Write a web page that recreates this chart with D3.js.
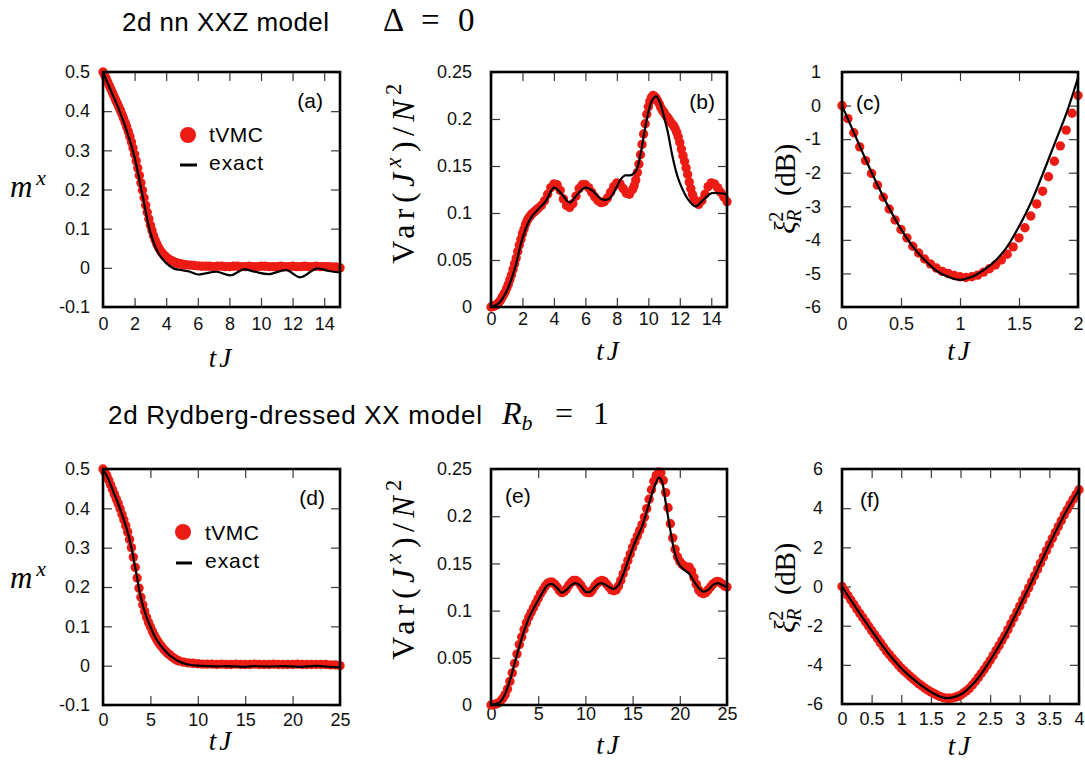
<!DOCTYPE html>
<html>
<head>
<meta charset="utf-8">
<script src="https://cdn.jsdelivr.net/npm/d3@7"></script>
<style>
body { margin: 0; background: #fff; }
svg { display: block; }
</style>
</head>
<body>
<svg id="fig" width="1085" height="760"></svg>
<script>
// ---- data: [tJ, value] ----
var aExact = [[0,0.5],[0.5,0.452],[1,0.405],[1.5,0.35],[2,0.282],[2.5,0.185],[3,0.09],[3.5,0.038],[4,0.012],[4.5,-0.002],[5,-0.006],[5.5,-0.01],[6,-0.017],[6.5,-0.014],[7.2,-0.01],[8.1,-0.019],[8.9,-0.004],[9.6,-0.01],[10.5,-0.016],[11.6,-0.006],[12.5,-0.024],[13.5,-0.002],[14.3,-0.008],[15,-0.012]];
var aTvmc = [[0,0.5],[0.1,0.492],[0.2,0.483],[0.3,0.474],[0.4,0.465],[0.5,0.456],[0.6,0.447],[0.7,0.438],[0.8,0.429],[0.9,0.42],[1,0.411],[1.1,0.402],[1.2,0.392],[1.3,0.382],[1.4,0.371],[1.5,0.36],[1.6,0.348],[1.7,0.335],[1.8,0.321],[1.9,0.306],[2,0.29],[2.1,0.273],[2.2,0.255],[2.3,0.236],[2.4,0.217],[2.5,0.198],[2.6,0.179],[2.7,0.16],[2.8,0.142],[2.9,0.125],[3,0.109],[3.1,0.095],[3.2,0.082],[3.3,0.071],[3.4,0.061],[3.5,0.053],[3.6,0.046],[3.7,0.04],[3.8,0.035],[3.9,0.031],[4,0.027],[4.1,0.024],[4.2,0.021],[4.3,0.019],[4.4,0.017],[4.5,0.015],[4.6,0.013],[4.7,0.012],[4.8,0.011],[4.9,0.01],[5,0.009],
  [5.25,0.008],[5.5,0.007],[5.75,0.006],[6,0.005],[6.25,0.004],[6.5,0.004],[6.75,0.004],[7,0.003],[7.25,0.004],[7.5,0.004],[7.75,0.003],[8,0.003],[8.25,0.004],[8.5,0.004],[8.75,0.003],[9,0.003],[9.25,0.004],[9.5,0.003],[9.75,0.003],[10,0.004],[10.25,0.004],[10.5,0.003],[10.75,0.003],[11,0.003],[11.25,0.004],[11.5,0.003],[11.75,0.003],[12,0.004],[12.25,0.003],[12.5,0.003],[12.75,0.004],[13,0.003],[13.25,0.003],[13.5,0.004],[13.75,0.003],[14,0.003],[14.25,0.003],[14.5,0.002],[14.75,0.002],[15,0]];

var bExact = [[0,0],[0.5,0.004],[1,0.017],[1.5,0.04],[2,0.073],[2.5,0.094],[3,0.104],[3.5,0.113],[4,0.127],[4.5,0.12],[5,0.111],[5.5,0.12],[6,0.127],[6.5,0.123],[7,0.115],[7.5,0.115],[8,0.128],[8.25,0.136],[8.5,0.14],[8.75,0.14],[9,0.141],[9.25,0.146],[9.5,0.162],[9.75,0.186],[10,0.207],[10.25,0.22],[10.5,0.224],[10.75,0.217],[11,0.202],[11.25,0.185],[11.5,0.163],[11.75,0.145],[12,0.132],[12.5,0.115],[13,0.107],[13.5,0.114],[14,0.121],[14.5,0.121],[15,0.12]];
var bTvmc = [[0,0],[0.1,0.0005],[0.2,0.001],[0.3,0.002],[0.4,0.003],[0.5,0.005],[0.6,0.007],[0.7,0.01],[0.8,0.013],[0.9,0.016],[1,0.02],[1.1,0.024],[1.2,0.029],[1.3,0.034],[1.4,0.04],[1.5,0.046],[1.6,0.052],[1.7,0.059],[1.8,0.066],[1.9,0.072],[2,0.078],[2.1,0.083],[2.2,0.088],[2.3,0.092],[2.4,0.095],[2.5,0.097],[2.6,0.099],[2.7,0.1005],[2.8,0.102],[2.9,0.1035],[3,0.105],
  [3.2,0.108],[3.4,0.113],[3.6,0.12],[3.8,0.127],[4,0.131],[4.2,0.13],[4.4,0.124],[4.6,0.115],[4.8,0.108],[5,0.106],[5.2,0.11],[5.4,0.118],[5.6,0.126],[5.8,0.13],[6,0.13],[6.2,0.127],[6.4,0.122],[6.6,0.117],[6.8,0.113],[7,0.111],[7.2,0.112],[7.4,0.116],[7.6,0.122],[7.8,0.128],[8,0.132],[8.2,0.131],[8.4,0.126],[8.6,0.121],[8.8,0.12],[9,0.125],
  [9.1,0.129],[9.2,0.135],[9.3,0.143],[9.4,0.152],[9.5,0.162],[9.6,0.173],[9.7,0.184],[9.8,0.195],[9.9,0.205],[10,0.213],[10.1,0.219],[10.2,0.223],[10.3,0.225],[10.4,0.224],[10.5,0.222],[10.6,0.219],[10.7,0.216],[10.8,0.212],[10.9,0.209],[11,0.207],[11.1,0.204],[11.2,0.202],[11.3,0.2],[11.4,0.197],[11.5,0.195],[11.6,0.193],[11.7,0.19],[11.8,0.186],[11.9,0.181],[12,0.175],[12.1,0.168],[12.2,0.161],[12.3,0.155],[12.4,0.148],[12.5,0.141],[12.6,0.133],[12.7,0.126],[12.8,0.12],[12.9,0.115],[13,0.112],
  [13.2,0.109],[13.4,0.113],[13.6,0.12],[13.8,0.128],[14,0.132],[14.2,0.131],[14.4,0.127],[14.6,0.122],[14.8,0.117],[15,0.112]];

var cExact = [[0,0],[0.1,-0.8],[0.2,-1.6],[0.3,-2.36],[0.4,-3.06],[0.5,-3.68],[0.6,-4.2],[0.7,-4.6],[0.8,-4.92],[0.9,-5.1],[1,-5.19],[1.1,-5.1],[1.2,-4.9],[1.3,-4.62],[1.4,-4.2],[1.5,-3.6],[1.6,-2.9],[1.7,-2.05],[1.8,-1.15],[1.9,-0.25],[2,0.83]];
var cTvmc = [[0,0],[0.05,-0.39],[0.1,-0.81],[0.15,-1.23],[0.2,-1.64],[0.25,-2.02],[0.3,-2.37],[0.35,-2.73],[0.4,-3.08],[0.45,-3.41],[0.5,-3.69],[0.55,-3.94],[0.6,-4.19],[0.65,-4.39],[0.7,-4.57],[0.75,-4.72],[0.8,-4.84],[0.85,-4.94],[0.9,-5],[0.95,-5.06],[1,-5.1],[1.05,-5.12],[1.1,-5.1],[1.15,-5.05],[1.2,-4.96],[1.25,-4.86],[1.3,-4.75],[1.35,-4.6],[1.4,-4.43],[1.45,-4.21],[1.5,-3.94],[1.55,-3.64],[1.6,-3.29],[1.65,-2.93],[1.7,-2.55],[1.75,-2.12],[1.8,-1.66],[1.85,-1.2],[1.9,-0.73],[1.95,-0.23],[2,0.3]];

var dExact = [[0,0.5],[0.5,0.478],[1,0.448],[1.5,0.418],[2,0.385],[2.5,0.348],[3,0.3],[3.5,0.236],[4,0.172],[4.5,0.13],[5,0.099],[5.5,0.073],[6,0.054],[6.5,0.039],[7,0.027],[7.5,0.018],[8,0.011],[8.5,0.006],[9,0.003],[10,0],[11,-0.001],[12,-0.002],[13,-0.001],[14,-0.002],[15,-0.003],[16,-0.001],[17,-0.002],[18,-0.002],[19,-0.001],[20,-0.002],[21,-0.003],[22,-0.001],[23,-0.001],[24,-0.003],[25,-0.004]];
var dTvmc = [[0,0.5],[0.2,0.492],[0.4,0.483],[0.6,0.472],[0.8,0.46],[1,0.448],[1.2,0.436],[1.4,0.424],[1.6,0.412],[1.8,0.399],[2,0.385],[2.2,0.371],[2.4,0.356],[2.6,0.34],[2.8,0.321],[3,0.3],[3.2,0.276],[3.4,0.25],[3.6,0.223],[3.8,0.197],[4,0.174],[4.2,0.155],[4.4,0.138],[4.6,0.123],[4.8,0.11],[5,0.099],[5.2,0.088],[5.4,0.078],[5.6,0.069],[5.8,0.061],[6,0.054],[6.2,0.048],[6.4,0.042],[6.6,0.037],[6.8,0.032],[7,0.028],[7.2,0.024],[7.4,0.02],[7.6,0.017],[7.8,0.014],[8,0.012],
  [8.5,0.009],[9,0.007],[9.5,0.006],[10,0.005],[10.5,0.004],[11,0.004],[11.5,0.004],[12,0.003],[12.5,0.004],[13,0.003],[13.5,0.003],[14,0.004],[14.5,0.003],[15,0.003],[15.5,0.003],[16,0.004],[16.5,0.003],[17,0.003],[17.5,0.003],[18,0.004],[18.5,0.003],[19,0.003],[19.5,0.003],[20,0.003],[20.5,0.004],[21,0.003],[21.5,0.003],[22,0.003],[22.5,0.003],[23,0.003],[23.5,0.003],[24,0.002],[24.5,0.002],[25,0]];

var eExact = [[0,0],[0.5,0.001],[1,0.0035],[1.5,0.012],[2,0.026],[2.5,0.044],[3,0.062],[3.5,0.078],[4,0.092],[4.5,0.102],[5,0.111],[5.5,0.12],[6,0.127],[6.5,0.128],[7,0.124],[7.5,0.119],[8,0.122],[8.5,0.127],[9,0.129],[9.5,0.126],[10,0.12],[10.5,0.12],[11,0.125],[11.5,0.129],[12,0.128],[12.5,0.125],[13,0.123],[13.5,0.127],[14,0.138],[14.5,0.152],[15,0.166],[15.5,0.178],[16,0.189],[16.5,0.205],[17,0.222],[17.5,0.236],[17.8,0.241],[18.1,0.237],[18.5,0.215],[19,0.185],[19.5,0.16],[20,0.148],[20.5,0.143],[21,0.139],[21.5,0.131],[22,0.124],[22.5,0.12],[23,0.122],[23.5,0.127],[24,0.129],[24.5,0.127],[25,0.125]];
var eTvmc = [[0,0],[0.25,0.0003],[0.5,0.001],[0.75,0.002],[1,0.004],[1.25,0.007],[1.5,0.011],[1.75,0.017],[2,0.025],[2.25,0.034],[2.5,0.044],[2.75,0.054],[3,0.064],[3.25,0.072],[3.5,0.08],[3.75,0.087],[4,0.093],[4.25,0.098],[4.5,0.103],[4.75,0.108],[5,0.113],[5.25,0.118],[5.5,0.122],[5.75,0.126],[6,0.129],[6.25,0.13],[6.5,0.13],[6.75,0.128],[7,0.125],[7.25,0.121],[7.5,0.119],[7.75,0.12],[8,0.123],[8.25,0.127],[8.5,0.13],[8.75,0.132],[9,0.132],[9.25,0.13],[9.5,0.127],[9.75,0.123],[10,0.12],[10.25,0.119],[10.5,0.119],[10.75,0.122],[11,0.126],[11.25,0.129],[11.5,0.131],[11.75,0.132],[12,0.131],[12.25,0.128],[12.5,0.125],[12.75,0.122],[13,0.121],[13.25,0.122],[13.5,0.126],[13.75,0.132],[14,0.139],[14.25,0.146],[14.5,0.153],[14.75,0.16],[15,0.167],[15.25,0.173],[15.5,0.179],[15.75,0.185],[16,0.191],[16.25,0.199],[16.5,0.208],[16.75,0.218],[17,0.228],[17.25,0.237],[17.5,0.243],[17.75,0.247],[18,0.246],[18.25,0.238],[18.5,0.225],[18.75,0.209],[19,0.192],[19.25,0.177],[19.5,0.165],[19.75,0.157],[20,0.152],[20.25,0.149],[20.5,0.147],[20.75,0.146],[21,0.146],[21.25,0.142],[21.5,0.135],[21.75,0.128],[22,0.122],[22.25,0.119],[22.5,0.118],[22.75,0.119],[23,0.122],[23.25,0.125],[23.5,0.128],[23.75,0.13],[24,0.131],[24.25,0.13],[24.5,0.128],[24.75,0.126],[25,0.125]];

var fExact = [[0,0],[0.25,-1.15],[0.5,-2.25],[0.75,-3.3],[1,-4.17],[1.25,-4.85],[1.5,-5.38],[1.75,-5.7],[2,-5.52],[2.25,-4.85],[2.5,-3.78],[2.75,-2.5],[3,-1],[3.25,0.55],[3.5,2.15],[3.75,3.65],[4,4.94]];
var fTvmc = [[0,0],[0.05,-0.23],[0.1,-0.46],[0.15,-0.69],[0.2,-0.92],[0.25,-1.15],[0.3,-1.37],[0.35,-1.59],[0.4,-1.81],[0.45,-2.03],[0.5,-2.25],[0.55,-2.46],[0.6,-2.67],[0.65,-2.88],[0.7,-3.09],[0.75,-3.3],[0.8,-3.48],[0.85,-3.66],[0.9,-3.83],[0.95,-4],[1,-4.17],[1.05,-4.31],[1.1,-4.45],[1.15,-4.59],[1.2,-4.72],[1.25,-4.85],[1.3,-4.97],[1.35,-5.08],[1.4,-5.19],[1.45,-5.29],[1.5,-5.38],[1.55,-5.46],[1.6,-5.54],[1.65,-5.61],[1.7,-5.67],[1.75,-5.7],[1.8,-5.71],[1.85,-5.7],[1.9,-5.67],[1.95,-5.62],[2,-5.55],[2.05,-5.44],[2.1,-5.33],[2.15,-5.2],[2.2,-5.03],[2.25,-4.85],[2.3,-4.65],[2.35,-4.44],[2.4,-4.23],[2.45,-4.01],[2.5,-3.78],[2.55,-3.53],[2.6,-3.27],[2.65,-3.02],[2.7,-2.76],[2.75,-2.5],[2.8,-2.2],[2.85,-1.9],[2.9,-1.6],[2.95,-1.3],[3,-1],[3.05,-0.69],[3.1,-0.38],[3.15,-0.07],[3.2,0.24],[3.25,0.55],[3.3,0.87],[3.35,1.19],[3.4,1.51],[3.45,1.83],[3.5,2.15],[3.55,2.46],[3.6,2.76],[3.65,3.06],[3.7,3.36],[3.75,3.65],[3.8,3.92],[3.85,4.19],[3.9,4.45],[3.95,4.7],[4,4.94]];

// tick values and labels
var xTicks15 = [0,2,4,6,8,10,12,14];
var xTicks25 = [0,5,10,15,20,25];
var xTicks2 = [0,0.5,1,1.5,2];
var xTicks4 = [0,0.5,1,1.5,2,2.5,3,3.5,4];
var yTicksM = [-0.1,0,0.1,0.2,0.3,0.4,0.5];
var yLabelsM = ['-0.1','0','0.1','0.2','0.3','0.4','0.5'];
var yTicksVar = [0,0.05,0.1,0.15,0.2,0.25];
var yLabelsVar = ['0','0.05','0.1','0.15','0.2','0.25'];
var yTicksXiC = [-6,-5,-4,-3,-2,-1,0,1];
var yTicksXiF = [-6,-4,-2,0,2,4,6];

var RED = '#ec1c14';
var SANS = '"Liberation Sans", Arial, Helvetica, sans-serif';
var SERIF = '"Liberation Serif", "Times New Roman", serif';
var TICK = 9;

var svg = d3.select('#fig');

// stretch text to the width it has in the figure
function fitWidth(sel, target) {
  var node = sel.node();
  var n = node.getNumberOfChars();
  var w = node.getComputedTextLength();
  sel.attr('letter-spacing', (target - w) / Math.max(n - 1, 1));
  return sel;
}

// little math typesetter: parts are {s, i (italic), sup, sub, back}
function mathText(parent, parts, size) {
  var t = parent.append('text').attr('font-family', SERIF).attr('font-size', size).attr('fill', '#000');
  var shift = 0, prev = null;
  parts.forEach(function(p) {
    var target = p.sup ? size * 0.4 : (p.sub ? -size * 0.22 : 0);
    var ts = t.append('tspan').text(p.s)
      .attr('font-style', p.i ? 'italic' : 'normal')
      .attr('font-size', (p.sup || p.sub) ? size * 0.7 : size)
      .attr('dy', shift - target);
    if (p.back && prev) ts.attr('dx', -prev.node().getComputedTextLength());
    shift = target;
    prev = ts;
  });
  return t;
}

var LAB_MX = [{s:'m', i:1}, {s:'x', i:1, sup:1}];
var LAB_VAR = [{s:'Var('}, {s:'J', i:1}, {s:'x', i:1, sup:1}, {s:')/'}, {s:'N', i:1}, {s:'2', sup:1}];
var LAB_XI = [{s:'ξ', i:1}, {s:'2', sup:1}, {s:'R', i:1, sub:1, back:1}, {s:'\u00a0\u00a0(dB)'}];

var panels = [
  {box:[103,340,72,307], xd:[0,15], yd:[-0.1,0.5], xt:xTicks15, yt:yTicksM, yl:yLabelsM, exact:aExact, tvmc:aTvmc,
   xPad:10, yPad:13, tj:367, ylab:'mx', lx:10, ly:197, tag:'(a)', tx:323, ty:108, ta:'end',
   legend:{dot:[188,135], tx:209, tvY:142, line:[180,197,165], exY:170}},
  {box:[491,727,72,307], xd:[0,15], yd:[0,0.25], xt:xTicks15, yt:yTicksVar, yl:yLabelsVar, exact:bExact, tvmc:bTvmc,
   xPad:5, yPad:19, tj:360, ylab:'var', lx:414, ly:171, tag:'(b)', tx:715, ty:109, ta:'end'},
  {box:[842,1078,72,307], xd:[0,2], yd:[-6,1], xt:xTicks2, yt:yTicksXiC, exact:cExact, tvmc:cTvmc,
   xPad:10, yPad:21, tj:360, ylab:'xi', lx:795, ly:189, tag:'(c)', tx:856, ty:110, ta:'start'},
  {box:[103,340,469,705], xd:[0,25], yd:[-0.1,0.5], xt:xTicks25, yt:yTicksM, yl:yLabelsM, exact:dExact, tvmc:dTvmc,
   xPad:8, yPad:13, tj:750, ylab:'mx', lx:10, ly:588, tag:'(d)', tx:325, ty:505, ta:'end',
   legend:{dot:[183,532], tx:205, tvY:540, line:[176,192,563], exY:568}},
  {box:[491,727,469,705], xd:[0,25], yd:[0,0.25], xt:xTicks25, yt:yTicksVar, yl:yLabelsVar, exact:eExact, tvmc:eTvmc,
   xPad:2, yPad:19, tj:754, ylab:'var', lx:414, ly:567, tag:'(e)', tx:505, ty:503, ta:'start'},
  {box:[842,1079,469,704], xd:[0,4], yd:[-6,6], xt:xTicks4, yt:yTicksXiF, exact:fExact, tvmc:fTvmc,
   xPad:8, yPad:19, tj:755, ylab:'xi', lx:795, ly:588, tag:'(f)', tx:860, ty:507, ta:'start'}
];

function styleAxis(sel) {
  sel.attr('font-family', SANS).attr('font-size', 18).attr('color', '#111');
  sel.select('.domain').remove();
  sel.selectAll('.tick line').attr('stroke', '#3a3a3a').attr('stroke-width', 1.2);
}

function drawPanel(p) {
  var x0 = p.box[0], x1 = p.box[1], y0 = p.box[2], y1 = p.box[3];
  var x = d3.scaleLinear().domain(p.xd).range([x0, x1]);
  var y = d3.scaleLinear().domain(p.yd).range([y1, y0]);
  var g = svg.append('g');

  g.append('g').attr('transform', 'translate(0,' + y1 + ')')
    .call(d3.axisBottom(x).tickValues(p.xt).tickSize(-TICK).tickPadding(p.xPad).tickFormat(function(d) { return String(d); }))
    .call(styleAxis);
  g.append('g').attr('transform', 'translate(0,' + y0 + ')')
    .call(d3.axisTop(x).tickValues(p.xt).tickSize(-TICK).tickFormat(''))
    .call(styleAxis);
  g.append('g').attr('transform', 'translate(' + x0 + ',0)')
    .call(d3.axisLeft(y).tickValues(p.yt).tickSize(-TICK).tickPadding(p.yPad)
      .tickFormat(function(d, i) { return p.yl ? p.yl[i] : String(d); }))
    .call(styleAxis);
  g.append('g').attr('transform', 'translate(' + x1 + ',0)')
    .call(d3.axisRight(y).tickValues(p.yt).tickSize(-TICK).tickFormat(''))
    .call(styleAxis);

  // tVMC points, then the exact curve over them
  g.append('g').selectAll('circle').data(p.tvmc).join('circle')
    .attr('cx', function(d) { return x(d[0]); })
    .attr('cy', function(d) { return y(d[1]); })
    .attr('r', 4.7)
    .attr('fill', RED);
  var line = d3.line().x(function(d) { return x(d[0]); }).y(function(d) { return y(d[1]); })
    .curve(d3.curveCatmullRom.alpha(0.5));
  g.append('path').datum(p.exact).attr('d', line)
    .attr('fill', 'none').attr('stroke', '#000').attr('stroke-width', 2.2);

  g.append('rect').attr('x', x0).attr('y', y0).attr('width', x1 - x0).attr('height', y1 - y0)
    .attr('fill', 'none').attr('stroke', '#000').attr('stroke-width', 2.6);

  // x label
  var tj = mathText(g, [{s:'tJ', i:1}], 27).attr('x', (x0 + x1) / 2).attr('y', p.tj).attr('text-anchor', 'middle');
  fitWidth(tj, 22.5);

  // y label
  if (p.ylab === 'mx') {
    var mx = mathText(g, LAB_MX, 31).attr('x', p.lx).attr('y', p.ly);
    fitWidth(mx, 36);
  } else if (p.ylab === 'var') {
    var v = mathText(g, LAB_VAR, 32).attr('text-anchor', 'middle')
      .attr('transform', 'translate(' + p.lx + ',' + p.ly + ') rotate(-90)');
    fitWidth(v, 180);
  } else {
    var xi = mathText(g, LAB_XI, 29).attr('text-anchor', 'middle')
      .attr('transform', 'translate(' + p.lx + ',' + p.ly + ') rotate(-90)');
    fitWidth(xi, 100);
  }

  // panel tag
  g.append('text').attr('x', p.tx).attr('y', p.ty).attr('text-anchor', p.ta)
    .attr('font-family', SANS).attr('font-size', 21).text(p.tag);

  if (p.legend) {
    var L = p.legend;
    g.append('circle').attr('cx', L.dot[0]).attr('cy', L.dot[1]).attr('r', 8).attr('fill', RED);
    g.append('line').attr('x1', L.line[0]).attr('x2', L.line[1]).attr('y1', L.line[2]).attr('y2', L.line[2])
      .attr('stroke', '#000').attr('stroke-width', 3);
    fitWidth(g.append('text').attr('x', L.tx).attr('y', L.tvY).attr('font-family', SANS).attr('font-size', 21).text('tVMC'), 54);
    fitWidth(g.append('text').attr('x', L.tx).attr('y', L.exY).attr('font-family', SANS).attr('font-size', 21).text('exact'), 54);
  }
}

panels.forEach(drawPanel);

// row titles
fitWidth(svg.append('text').attr('x', 122).attr('y', 31).attr('font-family', SANS).attr('font-size', 26)
  .text('2d nn XXZ model'), 207);
var t1 = svg.append('text').attr('y', 31).attr('font-family', SERIF).attr('font-size', 33);
t1.append('tspan').attr('x', 383).text('Δ');
t1.append('tspan').attr('x', 421).text('=');
t1.append('tspan').attr('x', 458).text('0');

fitWidth(svg.append('text').attr('x', 108).attr('y', 424).attr('font-family', SANS).attr('font-size', 26)
  .text('2d Rydberg-dressed XX model'), 374);
var t2 = svg.append('text').attr('y', 424).attr('font-family', SERIF).attr('font-size', 32);
t2.append('tspan').attr('x', 502).attr('font-style', 'italic').text('R');
t2.append('tspan').attr('font-style', 'italic').attr('font-size', 22).attr('dy', 6).text('b');
t2.append('tspan').attr('x', 555).attr('dy', -6).text('=');
t2.append('tspan').attr('x', 593).text('1');
</script>
</body>
</html>
